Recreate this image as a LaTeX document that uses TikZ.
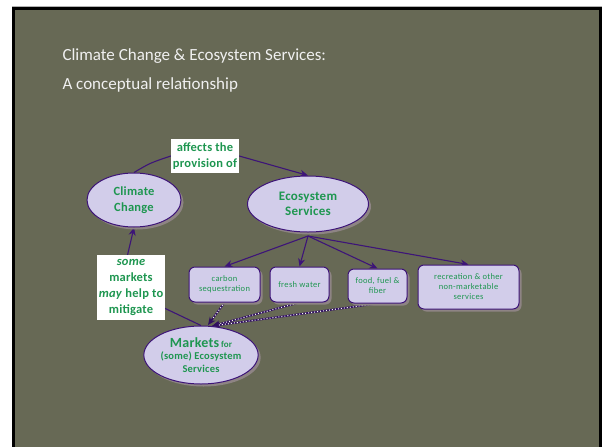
\documentclass[tikz,border=0pt]{standalone}
\usepackage{fontspec}
\setmainfont{Carlito}
\newfontfamily\smallfont[LetterSpace=4]{Carlito}
\newfontfamily\lblfont[LetterSpace=2]{Carlito}
\usetikzlibrary{shapes.geometric,arrows.meta,shadows}
\definecolor{olivebg}{HTML}{676955}
\definecolor{lav}{HTML}{D2CDEA}
\definecolor{pborder}{HTML}{3D1478}
\definecolor{gtext}{HTML}{1E9650}
\definecolor{shadowc}{HTML}{8E8484}
\pgfdeclarelayer{bottom}
\pgfdeclarelayer{edges}
\pgfsetlayers{bottom,edges,main}
\tikzset{
  shad/.style={drop shadow={shadow xshift=2.5pt, shadow yshift=-2.5pt, fill=shadowc, opacity=1}},
  ell/.style={ellipse, draw=pborder, line width=1pt, fill=lav, inner sep=0pt, shad, text=gtext, align=center},
  svcbox/.style={rectangle, rounded corners=6pt, draw=pborder, line width=1pt, fill=lav, inner sep=0pt, shad, text=gtext, align=center, font=\smallfont\fontsize{8.5}{10}\selectfont},
  lbl/.style={rectangle, fill=white, inner sep=0pt, text=gtext, align=center, font=\lblfont\fontsize{12.5}{16}\selectfont\bfseries},
  conn/.style={draw=pborder, line width=1.1pt, -{Stealth[length=8pt,width=7pt]}},
  dotconn/.style={draw=pborder!80!black, line width=1.8pt, -{Stealth[length=8pt,width=7pt]},
     postaction={draw=white!85!lav, dotted, line width=1pt, -, shorten >=7pt}},
  ttl/.style={anchor=base west, text=white!94!black, font=\fontsize{17}{20}\selectfont}
}
\begin{document}
\begin{tikzpicture}[x=1pt,y=-1pt]
\useasboundingbox (0,0) rectangle (602,447);
\begin{pgfonlayer}{bottom}
  \fill[white] (0,0) rectangle (602,447);
  \fill[gray!60] (12,6) rectangle (602,7);
  \fill[black] (12,7) rectangle (602,447);
  \fill[olivebg] (15,10) rectangle (599,447);
\end{pgfonlayer}

\node[ttl] (t1) at (59,60) {Climate Change \& Ecosystem Services:};
\node[ttl] (t2) at (59,89) {A conceptual relationship};

\node[ell, minimum width=94pt, minimum height=54pt, font=\lblfont\fontsize{12.5}{16}\selectfont\bfseries] (cc) at (134,200) {Climate\\Change};
\node[ell, minimum width=121pt, minimum height=56pt, font=\lblfont\fontsize{13}{15.5}\selectfont\bfseries] (es) at (308,204) {Ecosystem\\Services};
\node[ell, minimum width=112pt, minimum height=58pt, font=\lblfont\fontsize{10.5}{12.5}\selectfont\bfseries] (mk) at (201,355)
  {{\fontsize{14}{15}\selectfont Markets}\,{\fontsize{9}{10}\selectfont for}\\[0pt](some) Ecosystem\\Services};

\node[lbl, minimum width=68pt, minimum height=34pt] (aff) at (205,156) {affects the\\provision of};
\node[lbl, minimum width=68pt, minimum height=65pt] (some) at (131,287.5) {\itshape some\\markets\\\textit{may} help to\\mitigate};

\node[svcbox, minimum width=71pt, minimum height=35pt] (carbon) at (224.5,284.5) {carbon\\sequestration};
\node[svcbox, minimum width=59pt, minimum height=35pt] (fresh) at (299.5,284.5) {fresh water};
\node[svcbox, minimum width=59pt, minimum height=34pt] (food) at (377.5,286) {food, fuel \&\\fiber};
\node[svcbox, minimum width=101pt, minimum height=44pt] (rec) at (468.5,287) {recreation \& other\\non-marketable\\services};

\coordinate (esb) at (308,236);
\coordinate (bend) at (120,287);
\coordinate (mkin1) at (208,325);
\coordinate (mkin2) at (212,326);

\begin{pgfonlayer}{edges}
  \draw[conn] (cc.north) .. controls (150,163) .. (aff.west) -- (aff.east) -- (es.north);
  \draw[conn] (mk.north) -- (bend) -- (cc.south);
  \draw[conn] (esb) -- (carbon.north);
  \draw[conn] (esb) -- (fresh.north);
  \draw[conn] (esb) -- (food.north);
  \draw[conn] (esb) -- (rec.north);
  \draw[dotconn] (carbon.south) -- (mkin1);
  \draw[dotconn] (fresh.south) -- (mkin2);
  \draw[dotconn] (food.south) -- (mkin2);
\end{pgfonlayer}
\end{tikzpicture}
\end{document}
